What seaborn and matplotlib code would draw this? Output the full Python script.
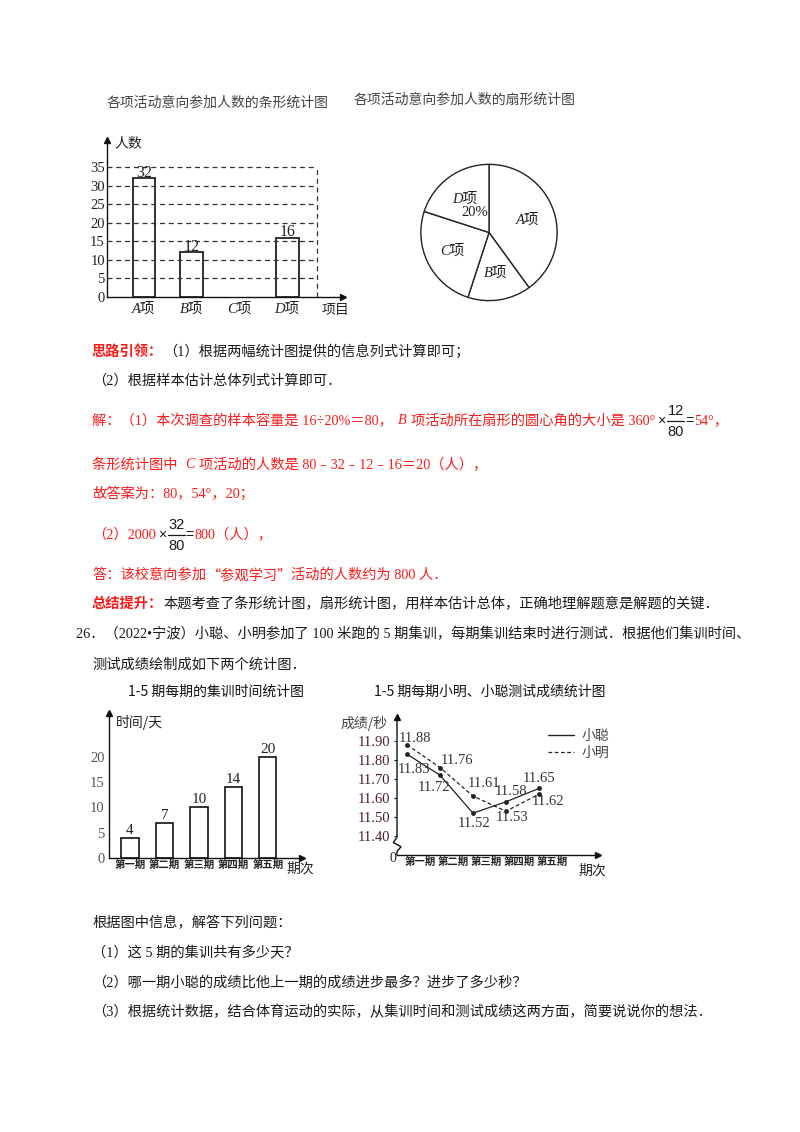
import numpy as np
import pandas as pd
import matplotlib
matplotlib.use("Agg")
import matplotlib.pyplot as plt
import seaborn as sns
from matplotlib.lines import Line2D
from matplotlib.transforms import ScaledTranslation

sns.set_theme(style="white")
SERIF = ['Liberation Serif', 'Noto Sans CJK SC']
CJK = ['Noto Sans CJK SC', 'DejaVu Sans']
plt.rcParams['font.family'] = SERIF

# ---- data ----
items = ['A项', 'B项', 'C项', 'D项']
item_counts = [32, 12, np.nan, 16]
count_ticks = [0, 5, 10, 15, 20, 25, 30, 35]
pie_counts = [32, 12, 20, 16]

periods = ['第一期', '第二期', '第三期', '第四期', '第五期']
train_days = [4, 7, 10, 14, 20]
day_ticks = [0, 5, 10, 15, 20]
cong = [11.83, 11.72, 11.52, 11.58, 11.65]
ming = [11.88, 11.76, 11.61, 11.53, 11.62]
score_ticks = [11.40, 11.50, 11.60, 11.70, 11.80, 11.90]

RED = '#ff1a1a'
BLK = '#1a1a1a'
W, H = 800, 1132
TXT = 10.25

fig = plt.figure(figsize=(W / 100, H / 100), dpi=100)
fig.patch.set_facecolor('white')
rend = fig.canvas.get_renderer()


def box(left, top, right, bottom):
    return [left / W, 1 - bottom / H, (right - left) / W, (bottom - top) / H]


def ftext(x, y, s, **kw):
    kw.setdefault('va', 'center')
    return fig.text(x / W, 1 - y / H, s, **kw)


def put(x, y, parts, size=TXT):
    # parts: (text, color, opts) or a number = gap in px
    for p in parts:
        if isinstance(p, (int, float)):
            x += p
            continue
        opts = p[2] if len(p) > 2 else {}
        t = ftext(x, y, p[0], color=p[1], fontsize=size, ha='left', **opts)
        x += t.get_window_extent(renderer=rend).width
    return x


def frac(x, y, top, bottom, size=10.5):
    b = ftext(x, y + 11, bottom, color=BLK, fontsize=size, ha='left',
              family=['Liberation Sans', 'DejaVu Sans'])
    w = b.get_window_extent(renderer=rend).width
    ftext(x + w / 2, y - 10, top, color=BLK, fontsize=size, ha='center',
          family=['Liberation Sans', 'DejaVu Sans'])
    fig.add_artist(Line2D([x / W, (x + w) / W], [1 - y / H, 1 - y / H],
                          color=BLK, lw=0.9, transform=fig.transFigure))
    return x + w


def arrows(ax):
    ax.plot(1, 0, '>', color='#111', ms=5, transform=ax.transAxes, clip_on=False)
    ax.plot(0, 1, '^', color='#111', ms=5, transform=ax.transAxes, clip_on=False)


# ---- chart 1: bar chart of items ----
ftext(218, 103, '各项活动意向参加人数的条形统计图', ha='center', fontsize=10, color='#444', family=CJK)
ax1 = fig.add_axes(box(107, 140, 343, 297))
df1 = pd.DataFrame({'item': items, 'count': item_counts})
sns.barplot(data=df1, x='item', y='count', order=items, ax=ax1, fill=False,
            color='#222', width=0.48, linewidth=1.3, errorbar=None)
ax1.set_xlim(-0.776, 4.17)
ax1.set_ylim(0, 42.3)
ax1.set_xlabel('')
ax1.set_ylabel('')
ax1.set_yticks(count_ticks)
ax1.hlines(count_ticks[1:], -0.776, 3.63, colors='#333', linestyles=(0, (4, 3)), lw=0.9)
ax1.vlines(3.63, 0, count_ticks[-1], colors='#333', linestyles=(0, (4, 3)), lw=0.9)
for i, v in enumerate(item_counts):
    if not np.isnan(v):
        ax1.text(i, v + 0.4, f'{v:.0f}', ha='center', va='baseline', fontsize=11.5, color='#222')
sns.despine(ax=ax1)
for s in ['left', 'bottom']:
    ax1.spines[s].set_color('#111')
    ax1.spines[s].set_linewidth(1)
ax1.tick_params(axis='both', length=0, labelsize=10.5, labelcolor='#222')
ax1.tick_params(axis='y', pad=1.5)
ax1.tick_params(axis='x', pad=4)
for lbl in ax1.get_xticklabels():
    lbl.set_fontstyle('italic')
arrows(ax1)
ftext(128, 143, '人数', fontsize=10, color='#222', ha='center', family=CJK)
ftext(335, 310, '项目', fontsize=10, color='#222', ha='center', family=CJK)

# ---- chart 1b: pie chart ----
ftext(465, 100, '各项活动意向参加人数的扇形统计图', ha='center', fontsize=10, color='#444', family=CJK)
ax2 = fig.add_axes(box(419, 163, 559, 302))
wedges, texts, autotexts = ax2.pie(
    pie_counts, labels=items, startangle=90, counterclock=False,
    colors=['white'] * 4, labeldistance=0.6, autopct='%.0f%%', pctdistance=0.36,
    wedgeprops=dict(edgecolor='#222', linewidth=1),
    textprops=dict(fontsize=10.5, color='#222'))
for t in texts:
    t.set_ha('center')
    t.set_fontstyle('italic')
for i, t in enumerate(autotexts):
    t.set_visible(i == 3)
ax2.set_xlim(-1.02, 1.02)
ax2.set_ylim(-1.02, 1.02)
ax2.set_aspect('equal')

# ---- text block ----
put(92, 352, [('思路引领：', RED, dict(weight='bold', family=CJK)),
              ('（1）根据两幅统计图提供的信息列式计算即可；', BLK)])
put(92, 381, [('（2）根据样本估计总体列式计算即可．', BLK)])
x = put(92, 421, [('解：（1）本次调查的样本容量是 16÷20%＝80，', RED), 5,
                  ('B', RED, dict(style='italic')), 4,
                  ('项活动所在扇形的圆心角的大小是 360°', RED), 2,
                  ('×', BLK, dict(family=['Liberation Sans'])), 2])
x = frac(x, 421, '12', '80')
put(x + 1, 421, [('=', BLK, dict(family=['Liberation Sans'])), 1, ('54°，', RED)])
put(92, 465, [('条形统计图中 ', RED), 4, ('C', RED, dict(style='italic')), 4,
              ('项活动的人数是 80﹣32﹣12﹣16＝20（人），', RED)])
put(92, 494, [('故答案为：80，54°，20；', RED)])
x = put(92, 535, [('（2）2000', RED), 2, ('×', BLK, dict(family=['Liberation Sans'])), 2])
x = frac(x, 535, '32', '80')
put(x + 1, 535, [('=', BLK, dict(family=['Liberation Sans'])), 1, ('800（人），', RED)])
put(92, 575, [('答：该校意向参加', RED), ('“参观学习”', RED, dict(family=CJK)),
              ('活动的人数约为 800 人．', RED)])
put(92, 604, [('总结提升：', RED, dict(weight='bold', family=CJK)),
              ('本题考查了条形统计图，扇形统计图，用样本估计总体，正确地理解题意是解题的关键．', BLK)])
put(76, 634, [('26．（2022•宁波）小聪、小明参加了 100 米跑的 5 期集训，每期集训结束时进行测试．根据他们集训时间、', BLK)])
put(92, 665, [('测试成绩绘制成如下两个统计图．', BLK)])
put(92, 923, [('根据图中信息，解答下列问题：', BLK)])
put(92, 953, [('（1）这 5 期的集训共有多少天？', BLK)])
put(92, 983, [('（2）哪一期小聪的成绩比他上一期的成绩进步最多？进步了多少秒？', BLK)])
put(92, 1012, [('（3）根据统计数据，结合体育运动的实际，从集训时间和测试成绩这两方面，简要说说你的想法．', BLK)])

# ---- chart 2: training days ----
ftext(216, 692, '1-5 期每期的集训时间统计图', ha='center', fontsize=10, color='#111', family=CJK)
ax3 = fig.add_axes(box(109, 713, 302, 858))
sns.barplot(x=periods, y=train_days, ax=ax3, fill=False, color='#111',
            width=0.5, linewidth=1.2, errorbar=None)
ax3.set_xlim(-0.61, 4.99)
ax3.set_ylim(0, 28.7)
ax3.set_yticks(day_ticks)
for i, v in enumerate(train_days):
    ax3.text(i, v + 0.8, str(v), ha='center', va='baseline', fontsize=11, color='#222')
sns.despine(ax=ax3)
for s in ['left', 'bottom']:
    ax3.spines[s].set_color('#111')
    ax3.spines[s].set_linewidth(1)
ax3.tick_params(axis='y', length=0, pad=3, labelsize=10.5, labelcolor='#555')
ax3.tick_params(axis='x', length=0, pad=1.5)
for lbl in ax3.get_xticklabels():
    lbl.set_fontfamily(CJK)
    lbl.set_fontsize(7.5)
    lbl.set_fontweight('bold')
    lbl.set_color('#222')
arrows(ax3)
ftext(139, 723, '时间/天', fontsize=10, color='#222', ha='center', family=CJK)
ftext(300, 869, '期次', fontsize=10, color='#222', ha='center', family=CJK)

# ---- chart 3: test scores ----
ftext(490, 692, '1-5 期每期小明、小聪测试成绩统计图', ha='center', fontsize=10, color='#111', family=CJK)
ax4 = fig.add_axes(box(397, 717, 598, 855))
df3 = pd.DataFrame({
    'period': list(range(len(periods))) * 2,
    'score': cong + ming,
    'who': ['小聪'] * len(cong) + ['小明'] * len(ming),
})
sns.lineplot(data=df3, x='period', y='score', style='who', ax=ax4, color='#222',
             dashes={'小聪': '', '小明': (3, 2)}, markers={'小聪': 'o', '小明': 'o'},
             markersize=3.5, markeredgewidth=0, linewidth=0.9, legend=False)
ax4.set_xlim(-0.303, 5.79)
ax4.set_ylim(11.30, 12.026)
ax4.set_xlabel('')
ax4.set_ylabel('')
ax4.set_yticks(score_ticks)
ax4.set_yticklabels([f'{v:.2f}' for v in score_ticks])
ax4.set_xticks(range(len(periods)))
ax4.set_xticklabels(periods)
sns.despine(ax=ax4, left=True)
ax4.spines['bottom'].set_color('#111')
ax4.spines['bottom'].set_linewidth(1)
ax4.plot([0, 0, -0.018, 0.02, 0, 0], [1, 0.13, 0.09, 0.06, 0.025, 0],
         transform=ax4.transAxes, color='#111', lw=1, clip_on=False)
ax4.tick_params(axis='y', length=2.5, width=0.8, color='#111', direction='out', left=True,
                pad=2.5, labelsize=10.5, labelcolor='#4a1f2e')
ax4.tick_params(axis='x', length=0, pad=1.5)
for lbl in ax4.get_xticklabels():
    lbl.set_fontfamily(CJK)
    lbl.set_fontsize(7.5)
    lbl.set_fontweight('bold')
    lbl.set_color('#222')
    lbl.set_transform(lbl.get_transform() + ScaledTranslation(0.13, 0, fig.dpi_scale_trans))
arrows(ax4)

ming_off = [(8, 6), (17, 7), (11, 13), (6, -6), (9, -7)]
cong_off = [(7, -15), (-6, -12), (1, -10), (5, 10), (0, 10)]
for series, offs in [(ming, ming_off), (cong, cong_off)]:
    for i, v in enumerate(series):
        dx, dy = offs[i]
        ax4.annotate(f'{v:.2f}', (i, v), xytext=(dx * 0.72, dy * 0.72), textcoords='offset points',
                     ha='center', va='center', fontsize=10.5, color='#333')

handles = [Line2D([], [], color='#222', lw=1),
           Line2D([], [], color='#222', lw=0.9, ls=(0, (3, 2)))]
ax4.legend(handles, ['小聪', '小明'], loc='upper left', bbox_to_anchor=(541 / W, 1 - 722 / H),
           bbox_transform=fig.transFigure, frameon=False, borderpad=0, handlelength=1.9,
           handletextpad=0.5, labelspacing=0.2, prop=dict(family=CJK, size=10),
           labelcolor='#444')
ftext(393, 858, '0', fontsize=10, color='#222', ha='center')
ftext(364, 723, '成绩/秒', fontsize=10, color='#444', ha='center', family=CJK)
ftext(592, 871, '期次', fontsize=10, color='#222', ha='center', family=CJK)

fig.savefig('out.png', dpi=100, facecolor='white')
